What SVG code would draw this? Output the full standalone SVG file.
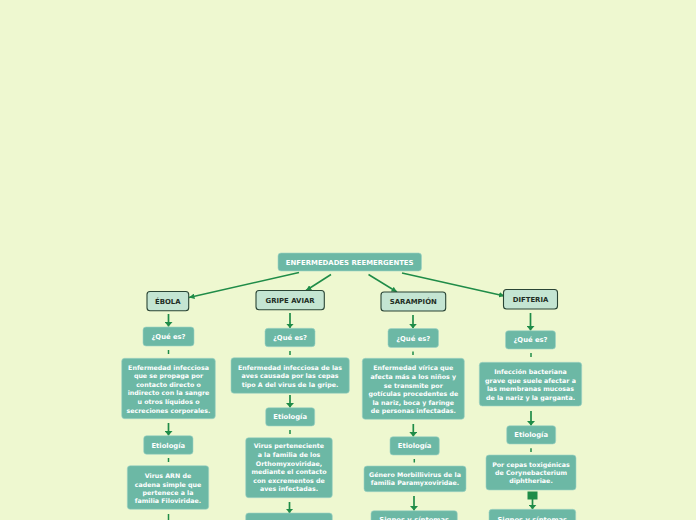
<svg xmlns="http://www.w3.org/2000/svg" width="696" height="520" viewBox="0 0 696 520">
<defs>
<marker id="ah" viewBox="0 0 10 10" refX="10" refY="5" markerWidth="5.5" markerHeight="5.5" orient="auto" markerUnits="userSpaceOnUse">
<path d="M0,0 L10,5 L0,10 Z" fill="#1f8c48"/>
</marker>
<marker id="ahv" viewBox="0 0 10 6" refX="10" refY="3" markerWidth="4.5" markerHeight="8" orient="auto" markerUnits="userSpaceOnUse" preserveAspectRatio="none">
<path d="M0,0 L10,3 L0,6 Z" fill="#1f8c48"/>
</marker>
<style>
.bx{fill:#6cb8a5;stroke:#9fd3c4;stroke-width:0.6}
.mn{fill:#c4e5d2;stroke:#2a4535;stroke-width:1.1}
.t{font-family:"DejaVu Sans",Verdana,sans-serif;font-weight:bold;fill:#ffffff;text-anchor:middle}
.l{font-size:6.8px}
.d{font-size:6.3px}
.mt{font-family:"DejaVu Sans",Verdana,sans-serif;font-weight:bold;fill:#1e2d24;text-anchor:middle;font-size:6.9px}
.c{stroke:#1f8c48;stroke-width:1.5;fill:none}
.ca{stroke:#1f8c48;stroke-width:1.7;fill:none;marker-end:url(#ahv)}
</style>
</defs>
<rect width="696" height="520" fill="#eef8d0"/>

<g id="connectors">
<line class="c" x1="299" y1="272.5" x2="189" y2="297.5" marker-end="url(#ah)"/>
<line class="c" x1="331" y1="274.5" x2="306" y2="290.5" marker-end="url(#ah)"/>
<line class="c" x1="368.5" y1="274.5" x2="397" y2="292" marker-end="url(#ah)"/>
<line class="c" x1="402" y1="273" x2="504.5" y2="296" marker-end="url(#ah)"/>

<line class="ca" x1="168.5" y1="314" x2="168.5" y2="326.5"/>
<line class="ca" x1="290" y1="313" x2="290" y2="328"/>
<line class="ca" x1="413" y1="315" x2="413" y2="328.3"/>
<line class="ca" x1="530.5" y1="313" x2="530.5" y2="330.5"/>

<line class="c" x1="168.5" y1="350" x2="168.5" y2="354"/>
<line class="c" x1="290" y1="351" x2="290" y2="355"/>
<line class="c" x1="413" y1="351.5" x2="413" y2="355"/>
<line class="c" x1="531" y1="353" x2="531" y2="357"/>

<line class="ca" x1="168.5" y1="423" x2="168.5" y2="435.5"/>
<line class="ca" x1="290" y1="395" x2="290" y2="407.5"/>
<line class="ca" x1="413.3" y1="424" x2="413.3" y2="436.5"/>
<line class="ca" x1="531" y1="411" x2="531" y2="425.5"/>

<line class="c" x1="168.5" y1="458" x2="168.5" y2="462"/>
<line class="c" x1="290" y1="430" x2="290" y2="434"/>
<line class="c" x1="414.3" y1="459" x2="414.3" y2="462.5"/>
<line class="c" x1="531" y1="448.3" x2="531" y2="452"/>

<line class="c" x1="168.5" y1="514" x2="168.5" y2="521"/>
<line class="ca" x1="289.5" y1="502" x2="289.5" y2="513"/>
<line class="ca" x1="414" y1="496" x2="414" y2="510.5"/>
<rect x="527.5" y="491.5" width="10" height="8" fill="#1f8c48"/>
<line class="ca" x1="532.5" y1="499" x2="532.5" y2="509.3"/>
</g>

<g id="root">
<rect x="278" y="253" width="143.5" height="18" rx="3" class="bx"/>
<text class="t" x="349.7" y="264.5" font-size="6.9">ENFERMEDADES REEMERGENTES</text>
</g>

<g id="ebola">
<rect x="147" y="291.5" width="41.7" height="19.2" rx="3" class="mn"/>
<text class="mt" x="167.8" y="303.5">ÉBOLA</text>
</g>
<g id="gripe">
<rect x="256" y="290.5" width="68.3" height="19.2" rx="3" class="mn"/>
<text class="mt" x="290.1" y="302.5">GRIPE AVIAR</text>
</g>
<g id="sarampion">
<rect x="381" y="292" width="64.7" height="19" rx="3" class="mn"/>
<text class="mt" x="413.3" y="303.8">SARAMPIÓN</text>
</g>
<g id="difteria">
<rect x="503.5" y="289.5" width="54" height="19.5" rx="3" class="mn"/>
<text class="mt" x="530.5" y="301.5">DIFTERIA</text>
</g>

<g id="ebola-que">
<rect x="143" y="327" width="51" height="19" rx="3" class="bx"/>
<text class="t l" x="168.5" y="339">¿Qué es?</text>
</g>
<g id="gripe-que">
<rect x="265" y="328.3" width="50" height="18.4" rx="3" class="bx"/>
<text class="t l" x="290" y="340">¿Qué es?</text>
</g>
<g id="sarampion-que">
<rect x="388" y="328.5" width="50.5" height="19" rx="3" class="bx"/>
<text class="t l" x="413.2" y="340.5">¿Qué es?</text>
</g>
<g id="difteria-que">
<rect x="505.5" y="330.7" width="50" height="18.3" rx="3" class="bx"/>
<text class="t l" x="530.5" y="342.3">¿Qué es?</text>
</g>

<g id="ebola-def">
<rect x="121.7" y="358.3" width="93.6" height="60.4" rx="3" class="bx"/>
<text class="t d" x="168.5" y="369.6">Enfermedad infecciosa</text>
<text class="t d" x="168.5" y="378.2">que se propaga por</text>
<text class="t d" x="168.5" y="386.8">contacto directo o</text>
<text class="t d" x="168.5" y="395.4">indirecto con la sangre</text>
<text class="t d" x="168.5" y="404">u otros líquidos o</text>
<text class="t d" x="168.5" y="412.6">secreciones corporales.</text>
</g>
<g id="gripe-def">
<rect x="231" y="357.7" width="118.3" height="35.6" rx="3" class="bx"/>
<text class="t d" x="290" y="369.6">Enfermedad infecciosa de las</text>
<text class="t d" x="290" y="378.2">aves causada por las cepas</text>
<text class="t d" x="290" y="386.8">tipo A del virus de la gripe.</text>
</g>
<g id="sarampion-def">
<rect x="362.3" y="358.3" width="102" height="61" rx="3" class="bx"/>
<text class="t d" x="413.3" y="370.3">Enfermedad vírica que</text>
<text class="t d" x="413.3" y="378.9">afecta más a los niños y</text>
<text class="t d" x="413.3" y="387.5">se transmite por</text>
<text class="t d" x="413.3" y="396.1">gotículas procedentes de</text>
<text class="t d" x="413.3" y="404.7">la nariz, boca y faringe</text>
<text class="t d" x="413.3" y="413.3">de personas infectadas.</text>
</g>
<g id="difteria-def">
<rect x="479.3" y="362.3" width="102.4" height="43.7" rx="3" class="bx"/>
<text class="t d" x="530.5" y="374">Infección bacteriana</text>
<text class="t d" x="530.5" y="382.6">grave que suele afectar a</text>
<text class="t d" x="530.5" y="391.2">las membranas mucosas</text>
<text class="t d" x="530.5" y="399.8">de la nariz y la garganta.</text>
</g>

<g id="ebola-etio">
<rect x="143.7" y="435.7" width="49.3" height="18.6" rx="3" class="bx"/>
<text class="t l" x="168.3" y="447.5">Etiología</text>
</g>
<g id="gripe-etio">
<rect x="265.7" y="407.7" width="49" height="18.3" rx="3" class="bx"/>
<text class="t l" x="290.2" y="419.3">Etiología</text>
</g>
<g id="sarampion-etio">
<rect x="390" y="436.7" width="49.3" height="18.3" rx="3" class="bx"/>
<text class="t l" x="414.6" y="448.3">Etiología</text>
</g>
<g id="difteria-etio">
<rect x="506.7" y="425.7" width="49" height="18.3" rx="3" class="bx"/>
<text class="t l" x="531.2" y="437.3">Etiología</text>
</g>

<g id="ebola-causa">
<rect x="127.3" y="465.7" width="81.4" height="43.6" rx="3" class="bx"/>
<text class="t d" x="168" y="478.2">Virus ARN de</text>
<text class="t d" x="168" y="486.6">cadena simple que</text>
<text class="t d" x="168" y="495">pertenece a la</text>
<text class="t d" x="168" y="503.4">familia Filoviridae.</text>
</g>
<g id="gripe-causa">
<rect x="245.7" y="437.7" width="86.6" height="60" rx="3" class="bx"/>
<text class="t d" x="289" y="448.3">Virus perteneciente</text>
<text class="t d" x="289" y="456.9">a la familia de los</text>
<text class="t d" x="289" y="465.5">Orthomyxoviridae,</text>
<text class="t d" x="289" y="474.1">mediante el contacto</text>
<text class="t d" x="289" y="482.7">con excrementos de</text>
<text class="t d" x="289" y="491.3">aves infectadas.</text>
</g>
<g id="sarampion-causa">
<rect x="364" y="466" width="102" height="25.7" rx="3" class="bx"/>
<text class="t d" x="415" y="476.5">Género Morbillivirus de la</text>
<text class="t d" x="415" y="485.4">familia Paramyxoviridae.</text>
</g>
<g id="difteria-causa">
<rect x="486" y="455" width="90" height="35" rx="3" class="bx"/>
<text class="t d" x="531" y="466.5">Por cepas toxigénicas</text>
<text class="t d" x="531" y="474.9">de Corynebacterium</text>
<text class="t d" x="531" y="483.3">diphtheriae.</text>
</g>

<g id="gripe-signos">
<rect x="245.7" y="513" width="86.6" height="30" rx="3" class="bx"/>
</g>
<g id="sarampion-signos">
<rect x="371" y="510.7" width="86.3" height="30" rx="3" class="bx"/>
<text class="t l" x="414.2" y="522">Signos y síntomas</text>
</g>
<g id="difteria-signos">
<rect x="489" y="509.3" width="86.7" height="30" rx="3" class="bx"/>
<text class="t l" x="532.3" y="521.5">Signos y síntomas</text>
</g>
</svg>
